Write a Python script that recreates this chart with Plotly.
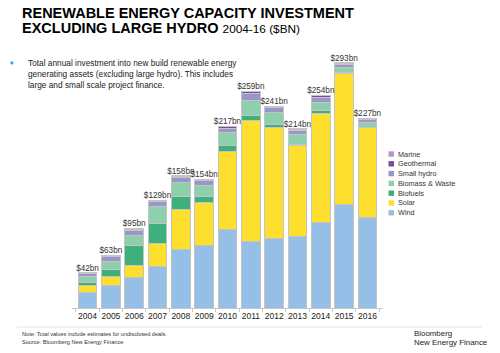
import plotly.graph_objects as go

years = ["2004", "2005", "2006", "2007", "2008", "2009", "2010",
         "2011", "2012", "2013", "2014", "2015", "2016"]
totals = [42, 63, 95, 129, 158, 154, 217, 259, 241, 214, 254, 293, 227]

wind = [18.2, 26.7, 37.0, 49.5, 70.0, 74.8, 94.4, 80.0, 82.7, 85.3, 102.0, 123.5, 108.5]
solar = [8.8, 11.0, 13.8, 27.5, 48.2, 51.6, 93.0, 143.6, 133.0, 108.7, 131.0, 156.8, 107.0]
biofuels = [3.1, 8.0, 24.3, 23.8, 15.0, 6.3, 7.1, 6.8, 4.0, 2.0, 2.8, 1.2, 0.5]
biomass = [8.0, 9.5, 11.5, 20.7, 16.7, 14.3, 15.1, 18.2, 13.5, 11.0, 9.5, 5.5, 6.0]
small_hydro = [3.2, 6.3, 6.3, 5.5, 6.3, 5.1, 5.5, 7.6, 6.0, 5.6, 6.4, 4.0, 3.2]
geothermal = [0.7, 1.2, 1.4, 1.5, 1.5, 1.6, 1.6, 2.5, 1.5, 1.2, 2.0, 1.7, 1.5]
marine = [0.2, 0.3, 0.3, 0.5, 0.3, 0.3, 0.3, 0.3, 0.3, 0.2, 0.3, 0.3, 0.3]

series_names = ["Wind", "Solar", "Biofuels", "Biomass & Waste", "Small hydro", "Geothermal", "Marine"]
series_values = [wind, solar, biofuels, biomass, small_hydro, geothermal, marine]
series_colors = ["#95BFE6", "#FFDF2E", "#3FAF7C", "#8ED0AE", "#9996CC", "#7C4C96", "#B894CC"]

FONT = "Liberation Sans, Arial, sans-serif"
W, H = 500, 353
L, R, T, B = 72, 117, 57, 45
PW, PH = W - L - R, H - T - B


def px(x):
    return (x - L) / PW


def py(y):
    return (H - B - y) / PH


fig = go.Figure()
for name, vals, col in zip(series_names, series_values, series_colors):
    fig.add_trace(go.Bar(
        x=years, y=vals, name=name,
        marker=dict(color=col, line=dict(color="#C4C4C4", width=1)),
        showlegend=False,
    ))

fig.add_trace(go.Scatter(
    x=years, y=totals, mode="text",
    text=["$%dbn" % t for t in totals],
    textposition="top center",
    textfont=dict(family=FONT, size=8.2, color="#333333"),
    cliponaxis=False,
    showlegend=False, hoverinfo="skip",
))

annotations = []
shapes = []

# Title
annotations.append(dict(xref="paper", yref="paper", x=px(20), y=py(12.8), xanchor="left", yanchor="middle",
                        text="<b>RENEWABLE ENERGY CAPACITY INVESTMENT</b>", showarrow=False,
                        font=dict(family=FONT, size=14.5, color="#000000")))
annotations.append(dict(xref="paper", yref="paper", x=px(20), y=py(28.3), xanchor="left", yanchor="middle",
                        text="<b>EXCLUDING LARGE HYDRO</b> <span style='font-size:11.8px'>2004-16 ($BN)</span>",
                        showarrow=False, font=dict(family=FONT, size=14.5, color="#000000")))

# Bullet text
annotations.append(dict(xref="paper", yref="paper", x=px(25.5), y=py(74), xanchor="left", yanchor="middle",
                        align="left",
                        text="Total annual investment into new build renewable energy<br>"
                             "generating assets (excluding large hydro). This includes<br>"
                             "large and small scale project finance.",
                        showarrow=False, font=dict(family=FONT, size=8.3, color="#222222")))
shapes.append(dict(type="circle", xref="paper", yref="paper", x0=px(10.3), x1=px(13.5), y0=py(61.3), y1=py(64.5),
                   fillcolor="#19B5E8", line=dict(width=0)))

# Manual legend (reversed order, Marine on top)
leg_top = 154
step = 9.8
for k, idx in enumerate(range(len(series_names) - 1, -1, -1)):
    yc = leg_top + k * step
    shapes.append(dict(type="rect", xref="paper", yref="paper",
                       x0=px(388.5), x1=px(394), y0=py(yc + 2.7), y1=py(yc - 2.7),
                       fillcolor=series_colors[idx], line=dict(width=0)))
    annotations.append(dict(xref="paper", yref="paper", x=px(396), y=py(yc), xanchor="left", yanchor="middle",
                            text=series_names[idx], showarrow=False,
                            font=dict(family=FONT, size=7.3, color="#333333")))

# Footer
shapes.append(dict(type="line", xref="paper", yref="paper", x0=px(17), x1=px(482), y0=py(327), y1=py(327),
                   line=dict(color="#E6E6E6", width=1)))
annotations.append(dict(xref="paper", yref="paper", x=px(20), y=py(334.3), xanchor="left", yanchor="middle",
                        text="Note: Total values include estimates for undisclosed deals.", showarrow=False,
                        font=dict(family=FONT, size=5.6, color="#333333")))
annotations.append(dict(xref="paper", yref="paper", x=px(20), y=py(342), xanchor="left", yanchor="middle",
                        text="Source: Bloomberg New Energy Finance", showarrow=False,
                        font=dict(family=FONT, size=5.6, color="#333333")))
annotations.append(dict(xref="paper", yref="paper", x=px(412), y=py(333.3), xanchor="left", yanchor="middle",
                        text="Bloomberg", showarrow=False,
                        font=dict(family=FONT, size=7.9, color="#222222")))
annotations.append(dict(xref="paper", yref="paper", x=px(412), y=py(342.3), xanchor="left", yanchor="middle",
                        text="New Energy Finance", showarrow=False,
                        font=dict(family=FONT, size=7.9, color="#222222")))

fig.update_layout(
    width=W, height=H,
    margin=dict(l=L, r=R, t=T, b=B, pad=0),
    barmode="stack", bargap=0.2,
    paper_bgcolor="white", plot_bgcolor="white",
    font=dict(family=FONT, color="#333333"),
    xaxis=dict(type="category", showline=True, linecolor="#C8C8C8", linewidth=1,
               ticks="outside", tickson="boundaries", ticklen=3, tickcolor="#C8C8C8",
               tickangle=0,
               tickfont=dict(family=FONT, size=8.5, color="#222222"), showgrid=False, fixedrange=True),
    yaxis=dict(range=[0, 300], visible=False, showgrid=False, fixedrange=True),
    annotations=annotations, shapes=shapes,
    showlegend=False,
)

fig.write_html("out.html")
